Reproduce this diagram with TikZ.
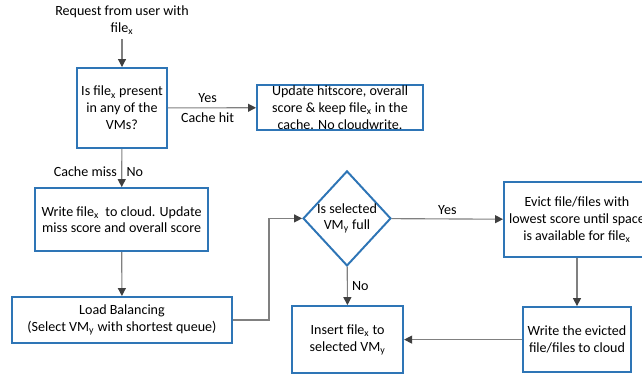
\documentclass[tikz,border=0pt]{standalone}
\usepackage{fontspec}
\setmainfont{Carlito}
\usetikzlibrary{shapes.geometric,arrows.meta}
\definecolor{boxblue}{RGB}{46,117,182}
\definecolor{linegray}{RGB}{128,128,128}
\definecolor{tipgray}{RGB}{64,64,64}
\begin{document}
\begin{tikzpicture}[blk/.style={draw=boxblue,line width=1.4pt,rectangle,align=center,inner sep=0pt},
dec/.style={draw=boxblue,line width=1.4pt,diamond,aspect=0.925,align=center,inner sep=0pt,minimum width=2.15cm,minimum height=2.325cm},
flw/.style={draw=linegray,line width=0.8pt,-{Triangle[length=2mm,width=2mm,color=tipgray]}},
lbl/.style={inner sep=3pt}]
\clip (0,0) rectangle (16.05,-9.375);
\node[align=center] (req) at (3.05,-0.5) {Request from user with\\file\textsubscript{x}};
\node[blk,minimum width=2.25cm,minimum height=2cm] (chk) at (3.05,-2.7) {Is file\textsubscript{x} present\\in any of the\\VMs?};
\node[blk,minimum width=4.15cm,minimum height=1.125cm] (hit) at (8.5,-2.69) {Update hitscore, overall\\score \& keep file\textsubscript{x} in the\\cache. No cloudwrite.};
\node[blk,minimum width=4.325cm,minimum height=1.575cm] (miss) at (3.04,-5.49) {Write file\textsubscript{x}\ \ to cloud. Update\\miss score and overall score};
\node[blk,minimum width=5.5cm,minimum height=1.15cm] (lb) at (3.05,-8.0) {Load Balancing\\(Select VM\textsubscript{y} with shortest queue)};
\node[dec] (full) at (8.675,-5.46) {Is selected\\VM\textsubscript{y} full};
\node[blk,minimum width=3.65cm,minimum height=1.875cm] (evict) at (14.425,-5.49) {Evict file/files with\\lowest score until space\\is available for file\textsubscript{x}};
\node[blk,minimum width=2.7cm,minimum height=1.625cm] (wr) at (14.425,-8.49) {Write the evicted\\file/files to cloud};
\node[blk,minimum width=2.775cm,minimum height=1.675cm] (ins) at (8.69,-8.49) {Insert file\textsubscript{x} to\\selected VM\textsubscript{y}};
\draw[flw] (req) -- (chk);
\draw[flw] (chk) -- node[lbl,above,pos=0.45] (yes1) {Yes} node[lbl,below,pos=0.45] (chit) {Cache hit} (hit);
\draw[flw] (chk) -- node[lbl,left,pos=0.6] (cmiss) {Cache miss} node[lbl,right,pos=0.6] (no1) {No} (miss);
\draw[flw] (miss) -- (lb);
\draw[flw] (lb.east) -- ++(0.9,0) |- (full.west);
\draw[flw] (full) -- node[lbl,above] (yes2) {Yes} (evict);
\draw[flw] (full) -- node[lbl,right] (no2) {No} (ins);
\draw[flw] (evict) -- (wr);
\draw[flw] (wr) -- (ins);
\end{tikzpicture}
\end{document}
